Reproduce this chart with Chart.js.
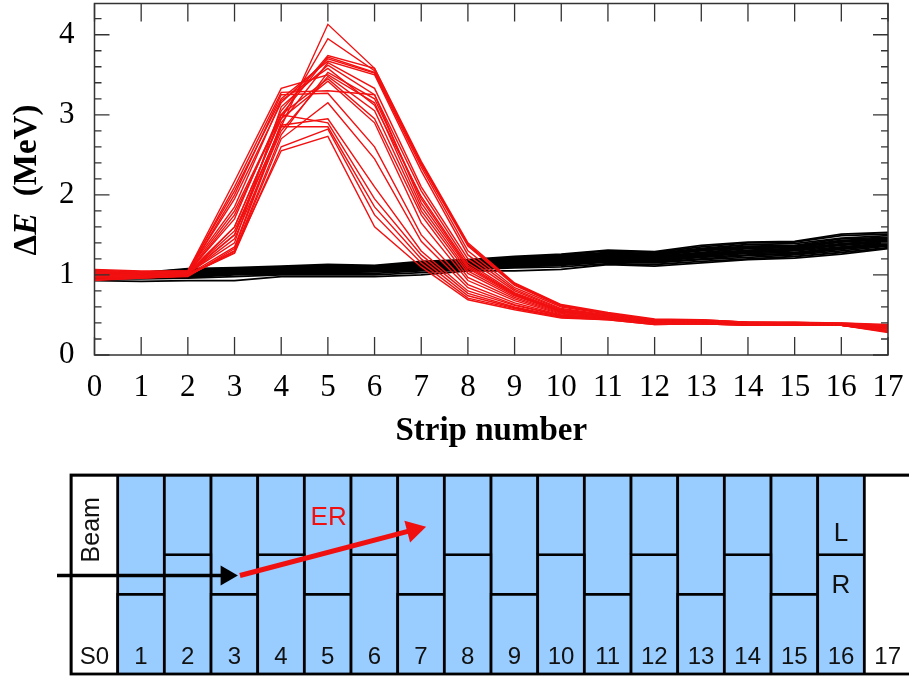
<!DOCTYPE html>
<html>
<head>
<meta charset="utf-8">
<script src="https://cdn.jsdelivr.net/npm/chart.js@4"></script>
<style>
  html, body { margin: 0; padding: 0; background: #fff; overflow: hidden; }
  canvas { position: absolute; left: 0; }
  #traces { top: 0; }
  #detector { top: 440px; }
</style>
</head>
<body>
<canvas id="traces" width="909" height="455"></canvas>
<canvas id="detector" width="911" height="239"></canvas>
<script>
const stripNumbers = [0, 1, 2, 3, 4, 5, 6, 7, 8, 9, 10, 11, 12, 13, 14, 15, 16, 17];
const yTicks = [0, 0.2, 0.4, 0.6, 0.8, 1, 1.2, 1.4, 1.6, 1.8, 2, 2.2, 2.4, 2.6, 2.8, 3, 3.2, 3.4, 3.6, 3.8, 4, 4.2];

// beam particles: flat band
const blackTracks = [
  [0.93, 0.92, 0.93, 0.93, 0.98, 0.98, 0.98, 1.00, 1.05, 1.05, 1.07, 1.13, 1.11, 1.15, 1.19, 1.21, 1.26, 1.33],
  [0.95, 0.95, 0.96, 0.98, 1.00, 1.00, 1.00, 1.03, 1.07, 1.09, 1.10, 1.14, 1.13, 1.17, 1.20, 1.23, 1.28, 1.34],
  [0.96, 0.96, 0.97, 1.00, 1.01, 1.02, 1.02, 1.05, 1.08, 1.10, 1.12, 1.16, 1.15, 1.19, 1.22, 1.25, 1.30, 1.36],
  [0.97, 0.97, 0.98, 1.01, 1.02, 1.03, 1.04, 1.06, 1.09, 1.11, 1.13, 1.17, 1.16, 1.20, 1.24, 1.26, 1.32, 1.37],
  [0.98, 0.97, 0.99, 1.02, 1.03, 1.04, 1.05, 1.07, 1.10, 1.12, 1.14, 1.18, 1.17, 1.22, 1.25, 1.27, 1.33, 1.38],
  [0.98, 0.98, 1.00, 1.02, 1.03, 1.05, 1.05, 1.08, 1.10, 1.13, 1.15, 1.19, 1.18, 1.23, 1.27, 1.28, 1.34, 1.39],
  [0.99, 0.98, 1.00, 1.03, 1.04, 1.05, 1.06, 1.09, 1.11, 1.14, 1.16, 1.20, 1.19, 1.24, 1.28, 1.30, 1.35, 1.40],
  [0.99, 0.99, 1.01, 1.03, 1.05, 1.06, 1.07, 1.10, 1.12, 1.15, 1.17, 1.21, 1.20, 1.25, 1.29, 1.31, 1.37, 1.41],
  [1.00, 0.99, 1.02, 1.04, 1.05, 1.07, 1.07, 1.11, 1.13, 1.16, 1.18, 1.22, 1.21, 1.26, 1.30, 1.32, 1.38, 1.42],
  [1.00, 1.00, 1.02, 1.05, 1.06, 1.08, 1.08, 1.11, 1.14, 1.17, 1.19, 1.23, 1.22, 1.27, 1.31, 1.33, 1.39, 1.43],
  [1.01, 1.00, 1.03, 1.05, 1.07, 1.08, 1.09, 1.12, 1.14, 1.18, 1.20, 1.24, 1.23, 1.28, 1.33, 1.34, 1.41, 1.44],
  [1.01, 1.01, 1.03, 1.06, 1.07, 1.09, 1.09, 1.13, 1.15, 1.18, 1.21, 1.25, 1.24, 1.30, 1.34, 1.35, 1.42, 1.45],
  [1.02, 1.01, 1.04, 1.06, 1.08, 1.10, 1.10, 1.14, 1.16, 1.19, 1.22, 1.26, 1.25, 1.31, 1.35, 1.36, 1.43, 1.46],
  [1.02, 1.02, 1.05, 1.07, 1.08, 1.10, 1.10, 1.15, 1.17, 1.20, 1.23, 1.27, 1.26, 1.32, 1.36, 1.37, 1.45, 1.47],
  [1.03, 1.02, 1.06, 1.07, 1.09, 1.11, 1.11, 1.15, 1.17, 1.21, 1.24, 1.28, 1.27, 1.33, 1.38, 1.39, 1.46, 1.49],
  [1.04, 1.03, 1.07, 1.08, 1.10, 1.12, 1.11, 1.16, 1.18, 1.22, 1.25, 1.30, 1.28, 1.35, 1.40, 1.41, 1.49, 1.51],
  [1.05, 1.03, 1.08, 1.09, 1.11, 1.13, 1.12, 1.17, 1.19, 1.23, 1.26, 1.31, 1.29, 1.37, 1.41, 1.42, 1.51, 1.53]
];

// recoils: peak around strip 4-6, then falling off
const redTracks = [
  [1.02, 1.00, 1.02, 1.55, 2.85, 4.13, 3.58, 2.40, 1.38, 0.88, 0.62, 0.52, 0.44, 0.43, 0.41, 0.41, 0.39, 0.36],
  [0.98, 0.98, 1.01, 1.60, 2.95, 3.95, 3.55, 2.38, 1.36, 0.87, 0.61, 0.52, 0.44, 0.43, 0.41, 0.40, 0.39, 0.35],
  [1.00, 1.00, 1.03, 1.70, 3.05, 3.74, 3.58, 2.42, 1.40, 0.90, 0.63, 0.53, 0.45, 0.44, 0.41, 0.41, 0.40, 0.38],
  [0.99, 0.99, 1.02, 1.50, 3.00, 3.72, 3.53, 2.40, 1.38, 0.89, 0.62, 0.52, 0.44, 0.44, 0.41, 0.40, 0.40, 0.37],
  [1.03, 1.02, 1.04, 1.95, 3.15, 3.70, 3.52, 2.35, 1.30, 0.84, 0.60, 0.51, 0.44, 0.43, 0.40, 0.40, 0.39, 0.36],
  [1.05, 1.03, 1.05, 2.05, 3.20, 3.67, 3.50, 2.30, 1.25, 0.82, 0.58, 0.50, 0.43, 0.43, 0.40, 0.40, 0.39, 0.35],
  [0.96, 0.97, 1.00, 1.35, 2.90, 3.65, 3.33, 2.10, 1.20, 0.80, 0.57, 0.50, 0.43, 0.42, 0.40, 0.39, 0.39, 0.36],
  [1.01, 1.00, 1.02, 1.40, 3.10, 3.62, 3.25, 2.05, 1.15, 0.78, 0.56, 0.49, 0.43, 0.42, 0.40, 0.40, 0.38, 0.35],
  [0.94, 0.96, 0.99, 1.30, 2.75, 3.53, 3.20, 1.95, 1.10, 0.76, 0.55, 0.49, 0.42, 0.42, 0.39, 0.39, 0.38, 0.34],
  [1.06, 1.04, 1.05, 2.17, 3.33, 3.50, 3.15, 1.85, 1.05, 0.74, 0.54, 0.48, 0.42, 0.42, 0.39, 0.40, 0.38, 0.36],
  [0.97, 0.98, 1.01, 1.45, 2.80, 3.48, 3.05, 1.80, 1.02, 0.72, 0.53, 0.48, 0.42, 0.41, 0.39, 0.39, 0.38, 0.33],
  [1.00, 0.99, 1.03, 1.80, 3.00, 3.45, 2.95, 1.75, 0.97, 0.70, 0.52, 0.47, 0.41, 0.41, 0.39, 0.39, 0.38, 0.35],
  [1.02, 1.01, 1.03, 1.60, 2.95, 3.42, 2.90, 1.65, 0.93, 0.68, 0.51, 0.47, 0.41, 0.41, 0.39, 0.38, 0.37, 0.32],
  [1.04, 1.03, 1.04, 2.10, 3.28, 3.30, 3.25, 1.90, 1.08, 0.75, 0.54, 0.48, 0.42, 0.42, 0.40, 0.39, 0.38, 0.34],
  [1.03, 1.02, 1.03, 2.00, 3.25, 3.27, 2.60, 1.50, 0.88, 0.65, 0.50, 0.46, 0.41, 0.40, 0.38, 0.39, 0.37, 0.34],
  [0.98, 0.98, 1.00, 1.28, 2.70, 3.15, 2.45, 1.42, 0.84, 0.63, 0.49, 0.46, 0.40, 0.40, 0.38, 0.38, 0.38, 0.33],
  [0.99, 0.97, 1.01, 1.50, 2.87, 2.95, 2.10, 1.30, 0.80, 0.62, 0.49, 0.46, 0.40, 0.40, 0.38, 0.38, 0.37, 0.31],
  [1.01, 1.00, 1.02, 1.75, 3.00, 2.90, 1.95, 1.25, 0.77, 0.60, 0.48, 0.45, 0.39, 0.39, 0.38, 0.38, 0.37, 0.30],
  [0.95, 0.96, 0.98, 1.33, 2.85, 2.85, 1.85, 1.20, 0.74, 0.59, 0.47, 0.45, 0.39, 0.39, 0.37, 0.38, 0.37, 0.29],
  [0.97, 0.98, 1.00, 1.27, 2.60, 2.82, 1.75, 1.15, 0.71, 0.58, 0.47, 0.44, 0.38, 0.39, 0.37, 0.37, 0.37, 0.28],
  [0.93, 0.96, 0.99, 1.30, 2.55, 2.73, 1.60, 1.10, 0.69, 0.565, 0.46, 0.44, 0.38, 0.39, 0.37, 0.37, 0.37, 0.30],
  [1.07, 1.05, 1.05, 1.85, 3.18, 3.58, 3.12, 1.98, 1.12, 0.77, 0.55, 0.49, 0.43, 0.41, 0.40, 0.39, 0.38, 0.35]
];

const detectorLabels = ["S0", "1", "2", "3", "4", "5", "6", "7", "8", "9", "10", "11", "12", "13", "14", "15", "16", "17"];
const splitHeights = [null, 40, 60, 40, 60, 40, 60, 40, 60, 40, 60, 40, 60, 40, 60, 40, 60, null];
const beamArrowX = [-0.3, 3.33];
const beamArrowY = [49.5, 49.5];
const erArrowX = [3.62, 7.34];
const erArrowY = [49.5, 72.4];
const notes = [
  { text: "ER", x: 5.52, y: 78.5, color: "#f01010" },
  { text: "L", x: 16.5, y: 70.5, color: "#111" },
  { text: "R", x: 16.5, y: 44.5, color: "#111" }
];

const SERIF = '"Liberation Serif", "Times New Roman", serif';
const SANS = '"Liberation Sans", Arial, sans-serif';

// ticks point into the plot on all four sides
const insideTicks = {
  id: "insideTicks",
  afterDatasetsDraw(chart) {
    const { ctx, chartArea: a, scales } = chart;
    ctx.save();
    ctx.strokeStyle = "#333";
    ctx.lineWidth = 1.3;
    ctx.beginPath();
    stripNumbers.forEach((v) => {
      const x = scales.x.getPixelForValue(v);
      ctx.moveTo(x, a.bottom); ctx.lineTo(x, a.bottom - 18);
      ctx.moveTo(x, a.top); ctx.lineTo(x, a.top + 18);
    });
    yTicks.forEach((v) => {
      const y = scales.y.getPixelForValue(v);
      const len = Number.isInteger(v) ? 15 : 7;
      ctx.moveTo(a.left, y); ctx.lineTo(a.left + len, y);
      ctx.moveTo(a.right, y); ctx.lineTo(a.right - len, y);
    });
    ctx.stroke();
    ctx.lineWidth = 1.5;
    ctx.strokeRect(a.left, a.top, a.right - a.left, a.bottom - a.top);
    ctx.restore();
  }
};

// the E in the y title is italic, so it is written in pieces
const yTitle = {
  id: "yTitle",
  afterDraw(chart) {
    const { ctx } = chart;
    const parts = [
      ["\u0394", 'bold 33px ' + SERIF],
      ["E", 'italic bold 33px ' + SERIF],
      ["  (MeV)", 'bold 33px ' + SERIF]
    ];
    ctx.save();
    ctx.translate(36, 180);
    ctx.rotate(-Math.PI / 2);
    ctx.fillStyle = "#000";
    ctx.textBaseline = "alphabetic";
    let total = 0;
    parts.forEach(([t, f]) => { ctx.font = f; total += ctx.measureText(t).width; });
    let x = -total / 2;
    parts.forEach(([t, f]) => {
      ctx.font = f;
      ctx.fillText(t, x, 0);
      x += ctx.measureText(t).width;
    });
    ctx.restore();
  }
};

const lineSets = [];
redTracks.forEach((t) => lineSets.push({ data: t, borderColor: "#f21010", borderWidth: 1.4, pointRadius: 0, tension: 0 }));
blackTracks.forEach((t) => lineSets.push({ data: t, borderColor: "#000", borderWidth: 1.8, pointRadius: 0, tension: 0 }));

new Chart(document.getElementById("traces"), {
  type: "line",
  data: { labels: stripNumbers, datasets: lineSets.map((s) => ({ ...s, data: s.data.map((v, i) => ({ x: stripNumbers[i], y: v })) })) },
  options: {
    responsive: false,
    animation: false,
    layout: { autoPadding: false, padding: { top: 3.5, right: 21, left: 0, bottom: 0 } },
    plugins: { legend: { display: false }, tooltip: { enabled: false } },
    scales: {
      x: {
        type: "linear",
        min: 0,
        max: 17,
        grid: { display: false },
        border: { display: false },
        afterBuildTicks: (s) => { s.ticks = stripNumbers.map((v) => ({ value: v })); },
        afterFit: (s) => { s.height = 100; s.paddingLeft = 0; s.paddingRight = 0; },
        ticks: { autoSkip: false, maxRotation: 0, padding: 6, color: "#000", font: { family: SERIF, size: 31 } },
        title: { display: true, text: "Strip number", color: "#000", padding: { top: 8 }, font: { family: SERIF, size: 33, weight: "bold" } }
      },
      y: {
        min: 0,
        max: 4.39,
        grid: { display: false },
        border: { display: false },
        afterBuildTicks: (s) => { s.ticks = yTicks.map((v) => ({ value: v })); },
        afterFit: (s) => { s.width = 94.5; s.paddingTop = 0; s.paddingBottom = 0; },
        ticks: {
          autoSkip: false,
          padding: 12,
          color: "#000",
          font: { family: SERIF, size: 31 },
          callback: (v) => (Number.isInteger(v) ? String(v) : "")
        }
      }
    }
  },
  plugins: [insideTicks, yTitle]
});

const stripText = {
  id: "stripText",
  afterDraw(chart) {
    const { ctx, chartArea: a, scales } = chart;
    ctx.save();
    ctx.strokeStyle = "#000";
    ctx.lineWidth = 2.8;
    ctx.strokeRect(a.left, a.top, a.right - a.left, a.bottom - a.top);
    ctx.textAlign = "center";
    ctx.textBaseline = "middle";
    ctx.font = "24px " + SANS;
    ctx.fillStyle = "#111";
    detectorLabels.forEach((t, i) => {
      ctx.fillText(t, scales.x.getPixelForValue(i), scales.y.getPixelForValue(8.5));
    });
    ctx.font = "26px " + SANS;
    notes.forEach((n) => {
      ctx.fillStyle = n.color;
      ctx.fillText(n.text, scales.xa.getPixelForValue(n.x), scales.y.getPixelForValue(n.y));
    });
    ctx.font = "25px " + SANS;
    ctx.translate(scales.xa.getPixelForValue(0.45), scales.y.getPixelForValue(72.5));
    ctx.rotate(-Math.PI / 2);
    ctx.fillStyle = "#111";
    ctx.fillText("Beam", 0, 0);
    ctx.restore();
  }
};

const stripColor = "#99ccff";
const rightParts = splitHeights.map((s) => (s === null ? [0, 100] : [0, s]));
const leftParts = splitHeights.map((s) => (s === null ? null : [s, 100]));
const barColors = splitHeights.map((s) => (s === null ? "#ffffff" : stripColor));

new Chart(document.getElementById("detector"), {
  data: {
    labels: detectorLabels,
    datasets: [
      { type: "line", xAxisID: "xa", order: 0, data: beamArrowX.map((x, i) => ({ x, y: beamArrowY[i] })), borderColor: "#000", borderWidth: 3.5, clip: false,
        pointStyle: "triangle", pointRadius: [0, 11.5], pointRotation: 90, pointBackgroundColor: "#000", pointBorderWidth: 0 },
      { type: "line", xAxisID: "xa", order: 0, data: erArrowX.map((x, i) => ({ x, y: erArrowY[i] })), borderColor: "#f01010", borderWidth: 5, clip: false,
        pointStyle: "triangle", pointRadius: [0, 13], pointRotation: 75.3, pointBackgroundColor: "#f01010", pointBorderWidth: 0 },
      { type: "bar", order: 1, grouped: false, inflateAmount: 1.4, data: rightParts, backgroundColor: barColors, borderColor: "#000", borderWidth: 2.8, categoryPercentage: 1, barPercentage: 1 },
      { type: "bar", order: 1, grouped: false, inflateAmount: 1.4, data: leftParts, backgroundColor: barColors, borderColor: "#000", borderWidth: 2.8, categoryPercentage: 1, barPercentage: 1 }
    ]
  },
  options: {
    responsive: false,
    animation: false,
    layout: { autoPadding: false, padding: { top: 35, bottom: 5, left: 71, right: 0 } },
    plugins: { legend: { display: false }, tooltip: { enabled: false } },
    scales: {
      x: { display: false },
      xa: { type: "linear", display: false, min: 0, max: 18 },
      y: { display: false, stacked: false, min: 0, max: 100 }
    }
  },
  plugins: [stripText]
});
</script>
</body>
</html>
